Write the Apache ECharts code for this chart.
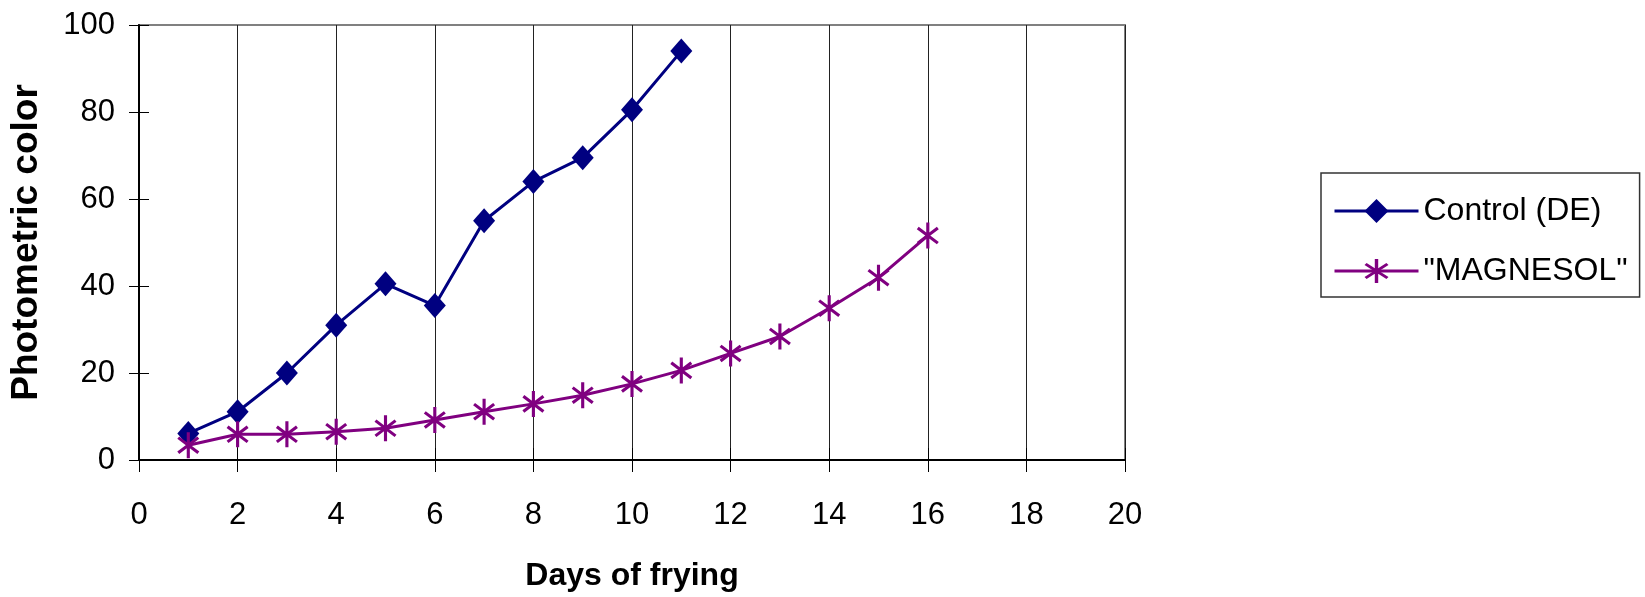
<!DOCTYPE html>
<html>
<head>
<meta charset="utf-8">
<script src="https://cdn.jsdelivr.net/npm/echarts@6/dist/echarts.min.js"></script>
<style>
html,body{margin:0;padding:0;background:#fff;}
#chart{width:1645px;height:597px;}
</style>
</head>
<body>
<div id="chart"></div>
<script>
const days = [1,2,3,4,5,6,7,8,9,10,11,12,13,14,15,16];
const controlDE = [6.1, 11.1, 20, 31, 40.5, 35.5, 55, 64, 69.5, 80.5, 94];
const magnesol = [3.4, 5.9, 5.9, 6.5, 7.3, 9.2, 11.1, 12.9, 14.9, 17.5, 20.6, 24.5, 28.4, 34.9, 41.9, 51.6];
const xTicks = [0,2,4,6,8,10,12,14,16,18,20];
const yTicks = [0,20,40,60,80,100];
const seriesNames = ['Control (DE)', '"MAGNESOL"'];

const asterisk = 'path://M8.6,0 L11.4,0 L11.4,24 L8.6,24 Z M1.86,3.89 L19.86,17.89 L18.14,20.11 L0.14,6.11 Z M19.86,6.11 L1.86,20.11 L0.14,17.89 L18.14,3.89 Z';

const font = '"Liberation Sans", Arial, sans-serif';
const chart = echarts.init(document.getElementById('chart'), null, {renderer:'canvas'});

const pair = (xs, ys) => ys.map((v,i)=>[xs[i], v]);

chart.setOption({
  animation:false,
  backgroundColor:'#fff',
  grid:{left:135, top:25, width:990, height:435, show:true, borderColor:'#808080', borderWidth:2, backgroundColor:'transparent'},
  legend:{
    left:1321, top:173,
    orient:'vertical',
    padding:[22,12,10,12],
    itemWidth:84, itemHeight:30, itemGap:28,
    borderColor:'#333', borderWidth:1.5,
    lineStyle:{width:3},
    textStyle:{fontFamily:font, fontSize:32, color:'#000', lineHeight:31},
    data:seriesNames
  },
  xAxis:[{
    type:'value', min:0, max:20, interval:2, position:'bottom',
    name:'Days of frying', nameLocation:'middle', nameGap:100,
    nameTextStyle:{fontFamily:font, fontSize:32, fontWeight:'bold', color:'#000'},
    axisLine:{show:true, onZero:false, lineStyle:{color:'#000', width:2}},
    axisTick:{show:true, length:12, lineStyle:{color:'#000', width:1}},
    axisLabel:{fontFamily:font, fontSize:31, color:'#000', margin:40, formatter:v=>xTicks.includes(v)?String(v):''},
    splitLine:{show:true, lineStyle:{color:'#222', width:1}}
  },{
    type:'value', min:0, max:20, interval:2, position:'bottom',
    axisLine:{show:false}, axisLabel:{show:false}, splitLine:{show:false},
    axisTick:{show:true, inside:true, length:12, lineStyle:{color:'#000', width:1}}
  }],
  yAxis:[{
    type:'value', min:0, max:100, interval:20, position:'left',
    name:'Photometric color', nameLocation:'middle', nameGap:94, nameRotate:90,
    nameTextStyle:{fontFamily:font, fontSize:37, fontWeight:'bold', color:'#000'},
    axisLine:{show:true, onZero:false, lineStyle:{color:'#000', width:2}},
    axisTick:{show:true, length:10, lineStyle:{color:'#000', width:1}},
    axisLabel:{fontFamily:font, fontSize:31, color:'#000', margin:24, formatter:v=>yTicks.includes(v)?String(v):''},
    splitLine:{show:false}
  },{
    type:'value', min:0, max:100, interval:20, position:'left',
    axisLine:{show:false}, axisLabel:{show:false}, splitLine:{show:false},
    axisTick:{show:true, inside:true, length:10, lineStyle:{color:'#000', width:1}}
  }],
  series:[{
    name:seriesNames[0], type:'line', xAxisIndex:0, yAxisIndex:0,
    data:pair(days, controlDE),
    symbol:'diamond', symbolSize:[22,25],
    itemStyle:{color:'#000080'},
    lineStyle:{color:'#000080', width:3},
    z:3
  },{
    name:seriesNames[1], type:'line', xAxisIndex:0, yAxisIndex:0,
    data:pair(days, magnesol),
    symbol:asterisk, symbolSize:[22,26],
    itemStyle:{color:'#800080'},
    lineStyle:{color:'#800080', width:3},
    z:3
  }]
});
</script>
</body>
</html>
